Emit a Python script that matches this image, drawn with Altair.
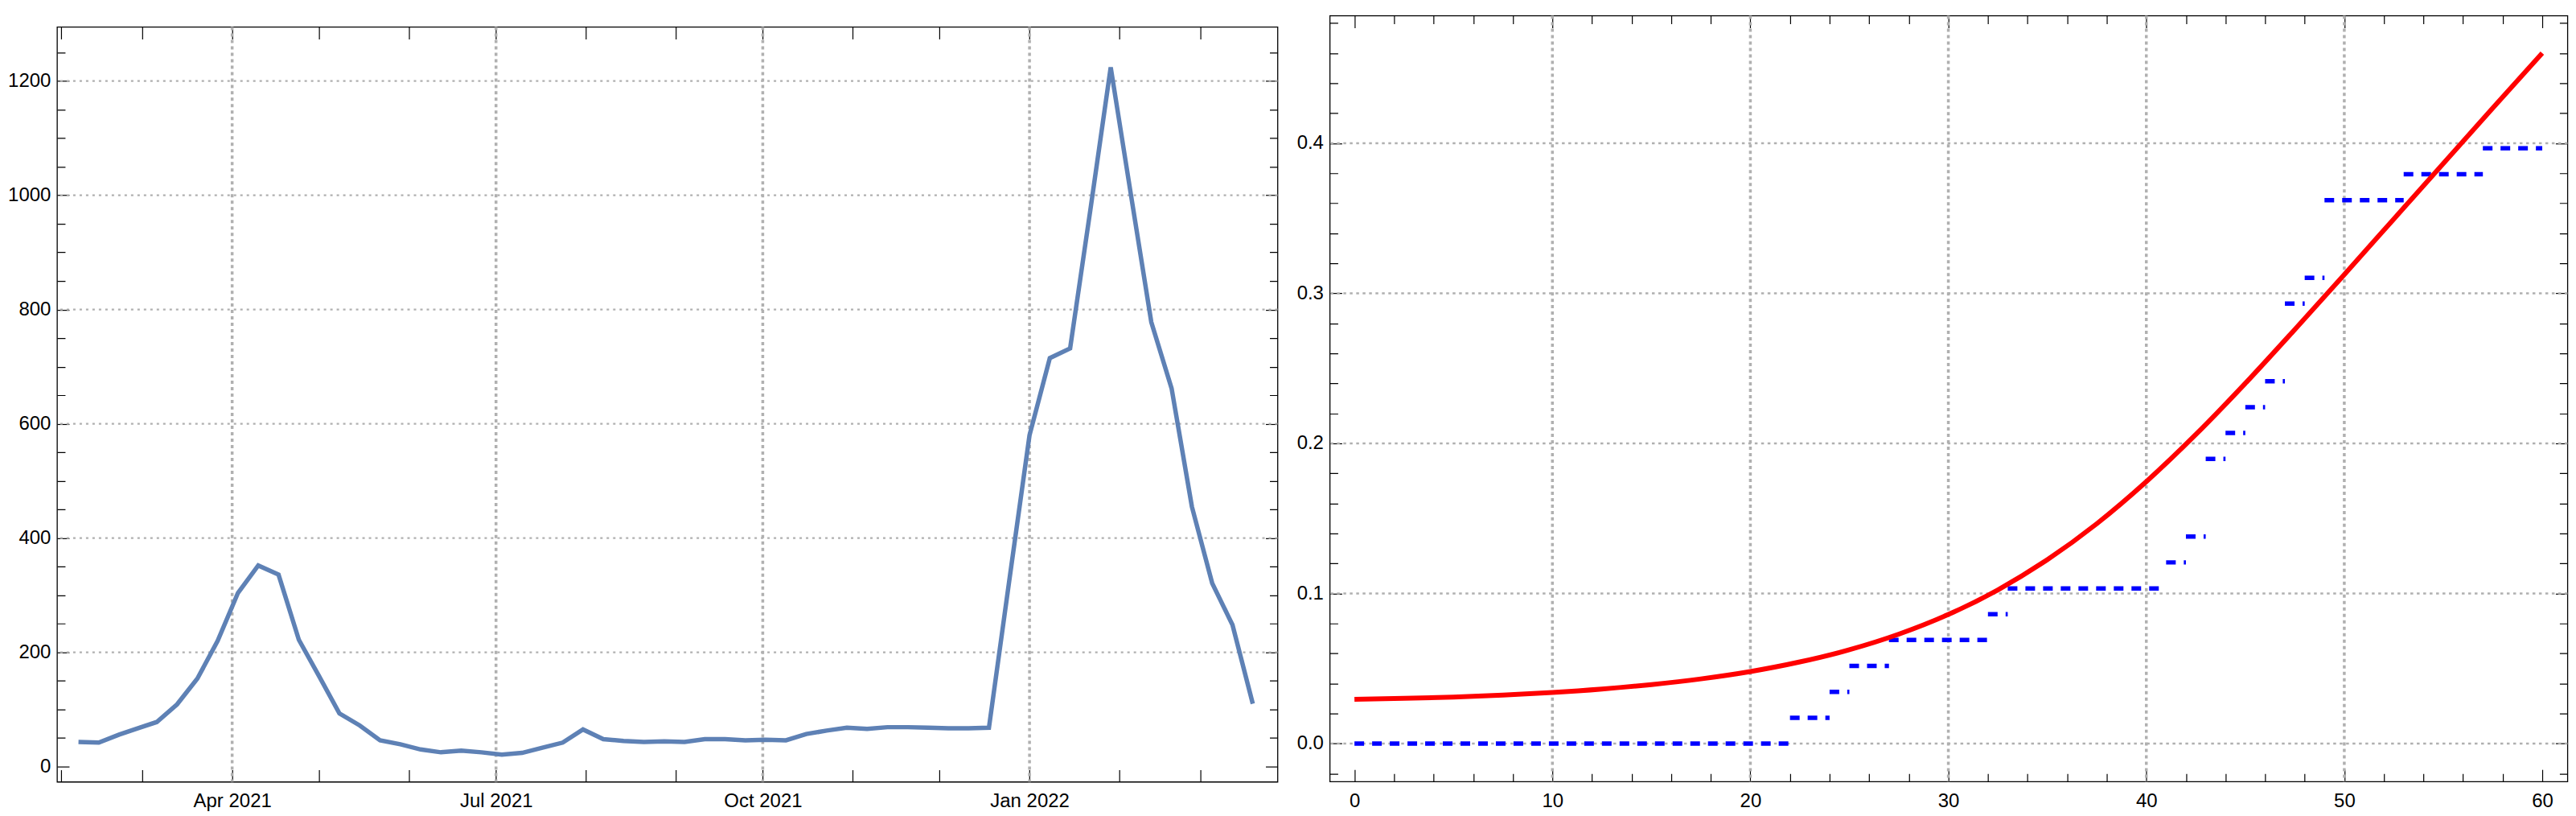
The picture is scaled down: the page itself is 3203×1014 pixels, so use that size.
import altair as alt
import pandas as pd

FONT = "Liberation Sans"

# ---------------- left panel data ----------------
week_dates = [
    "2021-02-07", "2021-02-14", "2021-02-21", "2021-02-28",
    "2021-03-06", "2021-03-13", "2021-03-20", "2021-03-27",
    "2021-04-03", "2021-04-10", "2021-04-17", "2021-04-24",
    "2021-05-01", "2021-05-08", "2021-05-15", "2021-05-22", "2021-05-29",
    "2021-06-05", "2021-06-12", "2021-06-19", "2021-06-26",
    "2021-07-03", "2021-07-10", "2021-07-17", "2021-07-24", "2021-07-31",
    "2021-08-07", "2021-08-14", "2021-08-21", "2021-08-28",
    "2021-09-04", "2021-09-11", "2021-09-18", "2021-09-25",
    "2021-10-02", "2021-10-09", "2021-10-16", "2021-10-23", "2021-10-30",
    "2021-11-06", "2021-11-13", "2021-11-20", "2021-11-27",
    "2021-12-04", "2021-12-11", "2021-12-18", "2021-12-25",
    "2022-01-01", "2022-01-08", "2022-01-15", "2022-01-22", "2022-01-29",
    "2022-02-05", "2022-02-12", "2022-02-19", "2022-02-26",
    "2022-03-05", "2022-03-12", "2022-03-19",
]
week_values = [
    43, 42, 56, 68,
    78, 109, 154, 220,
    304, 352, 336, 222,
    158, 93, 72, 46, 39,
    30, 25, 28, 25,
    21, 24, 33, 42, 65,
    48, 45, 43, 44,
    43, 48, 48, 46,
    47, 46, 57, 63, 68,
    66, 69, 69, 68,
    67, 67, 68, 325,
    580, 715, 732, 975, 1224,
    1000, 778, 662, 455,
    321, 248, 110,
]
left_grid_dates = ["2021-04-01", "2021-07-01", "2021-10-01", "2022-01-01"]
left_grid_values = [200, 400, 600, 800, 1000, 1200]
left_x_ticks = [
    "2021-02-01", "2021-03-01", "2021-04-01", "2021-05-01", "2021-06-01",
    "2021-07-01", "2021-08-01", "2021-09-01", "2021-10-01", "2021-11-01",
    "2021-12-01", "2022-01-01", "2022-02-01", "2022-03-01",
]
left_y_ticks = [0, 50, 100, 150, 200, 250, 300, 350, 400, 450, 500, 550, 600,
                650, 700, 750, 800, 850, 900, 950, 1000, 1050, 1100, 1150,
                1200, 1250]
left_x_domain = ["2021-01-30T14:40", "2022-03-27T13:00"]
left_y_domain = [-26.7, 1294.7]

# ---------------- right panel data ----------------
curve_x = [0, 2.5, 5, 7.5, 10, 12.5, 15, 17.5, 20, 22.5, 25, 27.5, 30, 32.5,
           35, 37.5, 40, 42.5, 45, 47.5, 50, 52.5, 55, 57.5, 60]
curve_y = [0.0295, 0.0301, 0.031, 0.0323, 0.034, 0.0363, 0.0393, 0.0431,
           0.048, 0.0544, 0.0625, 0.0729, 0.086, 0.1024, 0.1225, 0.1465,
           0.1745, 0.2059, 0.240, 0.2759, 0.3125, 0.3495, 0.3865, 0.4234,
           0.460]
step_x0 = [0, 22, 24, 25, 27, 32, 33, 41, 42, 43, 44, 45, 46, 47, 48, 49, 53, 57]
step_x1 = [22, 24, 25, 27, 32, 33, 41, 42, 43, 44, 45, 46, 47, 48, 49, 53, 57, 60]
step_y = [0.0, 0.0172, 0.0345, 0.0517, 0.069, 0.0862, 0.1034, 0.1207, 0.1379,
          0.1897, 0.2069, 0.2241, 0.2414, 0.2931, 0.3103, 0.3621, 0.3793, 0.3966]
right_grid_x = [10, 20, 30, 40, 50]
right_grid_y = [0.0, 0.1, 0.2, 0.3, 0.4]
right_x_ticks = [0, 2, 4, 6, 8, 10, 12, 14, 16, 18, 20, 22, 24, 26, 28, 30, 32,
                 34, 36, 38, 40, 42, 44, 46, 48, 50, 52, 54, 56, 58, 60]
right_y_ticks = [-0.02, 0.0, 0.02, 0.04, 0.06, 0.08, 0.1, 0.12, 0.14, 0.16,
                 0.18, 0.2, 0.22, 0.24, 0.26, 0.28, 0.3, 0.32, 0.34, 0.36,
                 0.38, 0.4, 0.42, 0.44, 0.46, 0.48]
right_x_domain = [-1.246, 61.274]
right_y_domain = [-0.0253, 0.485]

GRID_COLOR = "#b0b0b0"


def dt(s):
    date, _, time = s.partition("T")
    y, m, d = (int(p) for p in date.split("-"))
    hh, mm = (int(p) for p in time.split(":")) if time else (0, 0)
    return alt.DateTime(year=y, month=m, date=d, hours=hh, minutes=mm)


def minor_dash(test):
    # minor ticks: draw only the outer 10px of a 15px tick
    return {"condition": {"test": test, "value": [0, 5, 10, 0]}, "value": [15, 0]}


def make_axis(orient, values, labels=True, **kw):
    return alt.Axis(
        orient=orient, values=values, labels=labels, domain=False, grid=False,
        offset=-15, tickSize=15, tickColor="black", tickWidth=1.2,
        labelFont=FONT, labelFontSize=24, labelColor="black",
        labelOverlap=False, labelFlush=False, labelAngle=0, title=None, **kw)


# ---------------- left chart ----------------
lx_scale = alt.Scale(domain=[dt(s) for s in left_x_domain])
ly_scale = alt.Scale(domain=left_y_domain, nice=False, zero=False)
lx_ticks = [dt(s) for s in left_x_ticks]
ly_test = "datum.value % 200 !== 0"

df_left = pd.DataFrame({"date": pd.to_datetime(week_dates), "value": week_values})

l_gridv = alt.Chart(pd.DataFrame({"d": pd.to_datetime(left_grid_dates)})).mark_rule(
    color=GRID_COLOR, strokeWidth=3.5, strokeDash=[4, 4]
).encode(x=alt.X("d:T", scale=lx_scale, axis=make_axis("top", lx_ticks, labels=False)))

l_gridh = alt.Chart(pd.DataFrame({"v": left_grid_values})).mark_rule(
    color=GRID_COLOR, strokeWidth=2.2, strokeDash=[3, 5]
).encode(y=alt.Y("v:Q", scale=ly_scale,
                 axis=make_axis("right", left_y_ticks, labels=False,
                                tickDash=minor_dash(ly_test))))

l_line = alt.Chart(df_left).mark_line(color="#5E81B5", strokeWidth=5.5).encode(
    x=alt.X("date:T", scale=lx_scale,
            axis=make_axis("bottom", lx_ticks, labelPadding=12,
                           labelExpr="month(datum.value) % 3 === 0 ? timeFormat(datum.value, '%b %Y') : ''")),
    y=alt.Y("value:Q", scale=ly_scale,
            axis=make_axis("left", left_y_ticks, labelPadding=8, format="d",
                           labelExpr="datum.value % 200 === 0 ? datum.label : ''",
                           tickDash=minor_dash(ly_test))),
)

left = alt.layer(l_gridv, l_gridh, l_line).resolve_axis(
    x="independent", y="independent").properties(width=1519, height=939)

spacer = alt.Chart(pd.DataFrame({"a": [0]})).mark_point(opacity=0).properties(
    width=1519, height=10.3, view=alt.ViewBackground(strokeOpacity=0))

left_col = alt.vconcat(spacer, left, spacing=0)

# ---------------- right chart ----------------
rx_scale = alt.Scale(domain=right_x_domain, nice=False, zero=False)
ry_scale = alt.Scale(domain=right_y_domain, nice=False, zero=False)
rx_test = "datum.value % 10 !== 0"
ry_test = "abs(datum.value * 10 - round(datum.value * 10)) > 0.001"

r_gridv = alt.Chart(pd.DataFrame({"gx": right_grid_x})).mark_rule(
    color=GRID_COLOR, strokeWidth=3.5, strokeDash=[4, 4]
).encode(x=alt.X("gx:Q", scale=rx_scale,
                 axis=make_axis("top", right_x_ticks, labels=False,
                                tickDash=minor_dash(rx_test))))

r_gridh = alt.Chart(pd.DataFrame({"gy": right_grid_y})).mark_rule(
    color=GRID_COLOR, strokeWidth=2.5, strokeDash=[3.5, 4.5]
).encode(y=alt.Y("gy:Q", scale=ry_scale,
                 axis=make_axis("right", right_y_ticks, labels=False,
                                tickDash=minor_dash(ry_test))))

df_steps = pd.DataFrame({"x0": step_x0, "x1": step_x1, "y": step_y})
r_steps = alt.Chart(df_steps).mark_rule(
    color="#0000ff", strokeWidth=5.5, strokeDash=[12, 10]
).encode(
    x=alt.X("x0:Q", scale=rx_scale, axis=None),
    x2="x1:Q",
    y=alt.Y("y:Q", scale=ry_scale, axis=None),
)

df_curve = pd.DataFrame({"x": curve_x, "y": curve_y})
r_curve = alt.Chart(df_curve).mark_line(
    color="#ff0000", strokeWidth=6, interpolate="monotone"
).encode(
    x=alt.X("x:Q", scale=rx_scale,
            axis=make_axis("bottom", right_x_ticks, labelPadding=12, format="d",
                           labelExpr="datum.value % 10 === 0 ? datum.label : ''",
                           tickDash=minor_dash(rx_test))),
    y=alt.Y("y:Q", scale=ry_scale,
            axis=make_axis("left", right_y_ticks, labelPadding=8, format=".1f",
                           labelExpr="abs(datum.value * 10 - round(datum.value * 10)) < 0.001 ? datum.label : ''",
                           tickDash=minor_dash(ry_test))),
)

right = alt.layer(r_gridv, r_gridh, r_steps, r_curve).resolve_axis(
    x="independent", y="independent").properties(width=1540.4, height=952.6)

chart = alt.hconcat(left_col, right, spacing=20).properties(
    padding={"left": 0, "top": 7.0, "right": 0, "bottom": 0}
).configure_view(stroke="black", strokeWidth=1.3)

chart.save("out.html", embed_options={"renderer": "svg", "actions": False})
